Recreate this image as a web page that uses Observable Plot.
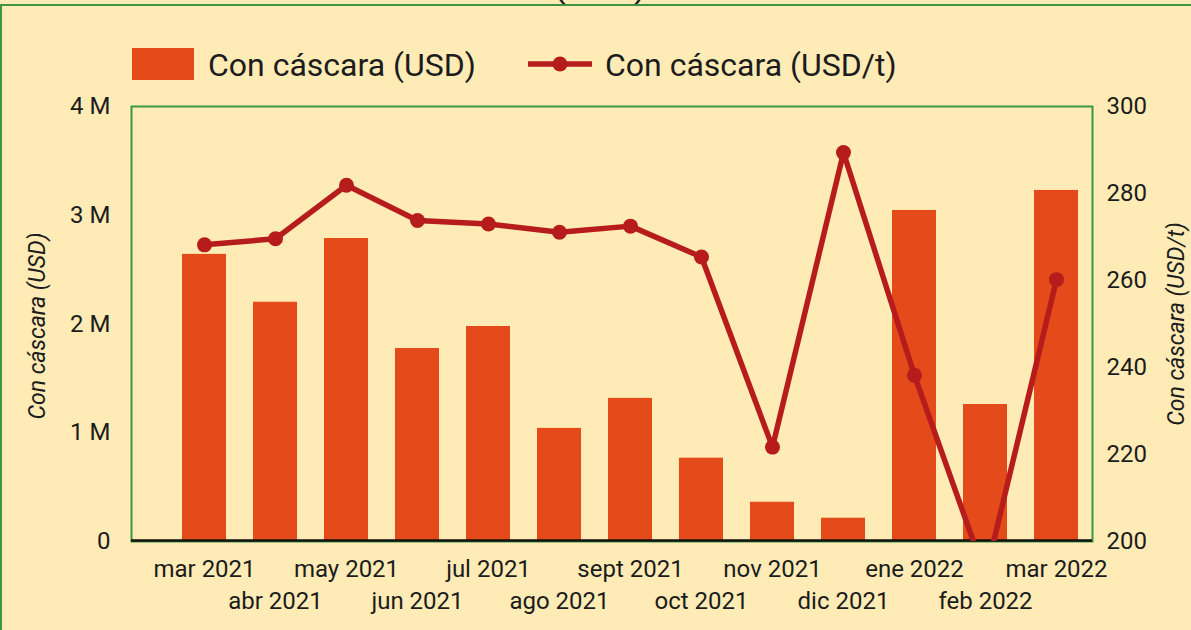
<!DOCTYPE html>
<html>
<head>
<meta charset="utf-8">
<script src="https://cdn.jsdelivr.net/npm/d3@7"></script>
<script src="https://cdn.jsdelivr.net/npm/@observablehq/plot@0.6"></script>
<style>
  html, body { margin: 0; padding: 0; background: #FFEBB5; overflow: hidden; }
  #wrap { position: relative; width: 1191px; height: 630px; font-family: Roboto, "Noto Sans", sans-serif; color: #1c1c1c; overflow: hidden; }
  #border { position: absolute; left: 0; top: 4px; width: 1300px; height: 700px; border: 2px solid #3E9442; box-sizing: border-box; pointer-events: none; }
  #title { position: absolute; left: 0; top: -33px; width: 1200px; text-align: center; font-size: 36px; line-height: 36px; }
  .leg { position: absolute; font-size: 32px; line-height: 32px; white-space: nowrap; }
  .alabel { position: absolute; width: 320px; height: 30px; line-height: 30px; text-align: center; font-size: 23px; font-style: italic; white-space: nowrap; transform: rotate(-90deg); transform-origin: 50% 50%; }
  #chart { position: absolute; left: 0; top: 0; }
</style>
</head>
<body>
<div id="wrap">
  <div id="chart"></div>
  <div id="title">(USD)</div>
  <div id="border"></div>
  <div id="leg1sw" style="position:absolute;left:132px;top:48px;width:62px;height:32px;background:#E44A1A;"></div>
  <div class="leg" id="leg1" style="left:208px;top:49px;"></div>
  <svg style="position:absolute;left:526px;top:52px;" width="70" height="24">
    <line x1="2" y1="12" x2="66" y2="12" stroke="#B71C1C" stroke-width="5.5"/>
    <circle cx="34" cy="12" r="7.5" fill="#B71C1C"/>
  </svg>
  <div class="leg" id="leg2" style="left:605px;top:49px;"></div>
  <div class="alabel" id="lab1" style="left:-122px;top:311px;"></div>
  <div class="alabel" id="lab2" style="left:1017px;top:309px;"></div>
</div>
<script>
const months = ["mar 2021","abr 2021","may 2021","jun 2021","jul 2021","ago 2021","sept 2021","oct 2021","nov 2021","dic 2021","ene 2022","feb 2022","mar 2022"];
const usd = [2.64e6, 2.20e6, 2.786e6, 1.775e6, 1.977e6, 1.04e6, 1.316e6, 0.766e6, 0.361e6, 0.214e6, 3.044e6, 1.26e6, 3.228e6];
const usdPerT = [268.2, 269.6, 281.9, 273.8, 273.0, 271.1, 272.5, 265.4, 221.7, 289.4, 238.2, 192.2, 260.2];
const leftTicks = [0, 1e6, 2e6, 3e6, 4e6];
const rightTicks = [200, 220, 240, 260, 280, 300];
const leftLabel = "Con cáscara (USD)";
const rightLabel = "Con cáscara (USD/t)";

document.getElementById("leg1").textContent = leftLabel;
document.getElementById("leg2").textContent = rightLabel;
document.getElementById("lab1").textContent = leftLabel;
document.getElementById("lab2").textContent = rightLabel;

const orange = "#E44A1A", red = "#B71C1C", green = "#3E9442";
const yMax = 4e6, rMin = 200, rMax = 300;
const toY = p => (p - rMin) / (rMax - rMin) * yMax;
const fromY = v => Math.round(rMin + v / yMax * (rMax - rMin));

const data = months.map((m, i) => ({month: m, usd: usd[i], price: usdPerT[i]}));
const rowA = months.filter((m, i) => i % 2 === 0);
const rowB = months.filter((m, i) => i % 2 === 1);

const chart = Plot.plot({
  width: 1191,
  height: 630,
  marginLeft: 131,
  marginRight: 99,
  marginTop: 106,
  marginBottom: 89,
  style: {background: "transparent", fontFamily: "Roboto, 'Noto Sans', sans-serif", fontSize: "24px", color: "#1c1c1c", overflow: "visible"},
  x: {type: "band", domain: months, range: [168.5, 1091.5], paddingInner: 0.38, paddingOuter: 0.19},
  y: {domain: [0, yMax]},
  marks: [
    Plot.barY(data, {x: "month", y: "usd", fill: orange}),
    Plot.frame({stroke: green, strokeWidth: 2}),
    Plot.ruleY([0], {stroke: "#111", strokeWidth: 2.5, dy: -1}),
    Plot.line(data, {x: "month", y: d => toY(d.price), stroke: red, strokeWidth: 5.5, clip: true}),
    Plot.dot(data, {x: "month", y: d => toY(d.price), r: 7.5, fill: red, stroke: "none", clip: true}),
    Plot.axisY({anchor: "left", ticks: leftTicks, tickFormat: d => d === 0 ? "0" : `${d / 1e6} M`, tickSize: 0, tickPadding: 21, label: null, fontSize: 24}),
    Plot.axisY({anchor: "right", ticks: rightTicks.map(toY), tickFormat: fromY, tickSize: 0, tickPadding: 14, label: null, fontSize: 24}),
    Plot.axisX({ticks: rowA, tickSize: 0, tickPadding: 18, label: null, fontSize: 24}),
    Plot.axisX({ticks: rowB, tickSize: 0, tickPadding: 50, label: null, fontSize: 24})
  ]
});
document.getElementById("chart").appendChild(chart);
</script>
</body>
</html>
